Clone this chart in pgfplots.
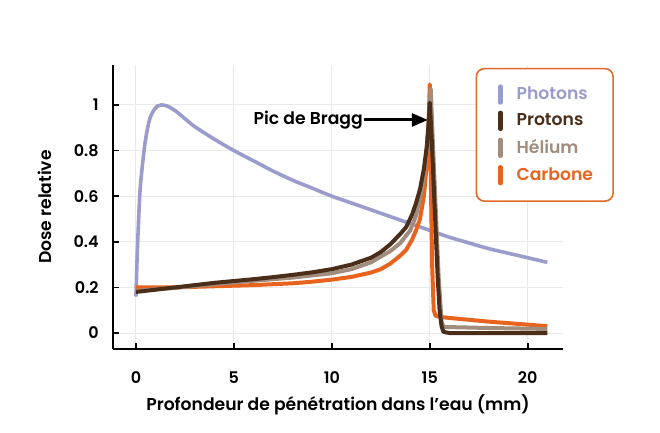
\documentclass[border=0pt]{standalone}
\usepackage{pgfplots}
\pgfplotsset{compat=1.18}
\usetikzlibrary{arrows.meta}
\usepackage{fontspec}
\setmainfont{Poppins}[UprightFont=* Medium, BoldFont=* SemiBold]
\definecolor{cPho}{HTML}{9A9CCB}
\definecolor{cPro}{HTML}{4B2E19}
\definecolor{cHel}{HTML}{A08D7D}
\definecolor{cCar}{HTML}{E8641E}
\definecolor{cBox}{HTML}{E06A2A}
\definecolor{cGrid}{HTML}{E9E9E9}
\begin{document}
\begin{tikzpicture}
\useasboundingbox (0,0) rectangle (330pt,216.5pt);
\begin{axis}[
  at={(56.5pt,42pt)}, anchor=south west,
  scale only axis, width=225pt, height=142pt,
  xmin=-1.17, xmax=21.8, ymin=-0.07, ymax=1.175,
  axis lines=left,
  axis line style={-, line width=1.4pt, black},
  xtick={0,5,10,15,20},
  ytick={0,0.2,0.4,0.6,0.8,1},
  grid=major,
  grid style={cGrid, line width=0.5pt},
  tick style={black, line width=0.8pt},
  major tick length=3pt,
  tick align=inside,
  /pgf/number format/assume math mode=true,
  tick label style={font=\fontsize{8}{9}\selectfont\bfseries, inner sep=0pt},
  xticklabel style={anchor=center, yshift=-14.5pt},
  yticklabel style={anchor=east, xshift=-7pt},
  xlabel={Profondeur de pénétration dans l'eau (mm)},
  ylabel={Dose relative},
  label style={font=\fontsize{8.6}{10}\selectfont\bfseries},
  xlabel style={at={(axis description cs:0.5,-0.197)}, anchor=center},
  ylabel style={at={(axis description cs:-0.151,0.5)}, anchor=center},
  legend style={at={(axis description cs:1.113,0.99)}, anchor=north east,
    draw=cBox, line width=0.8pt, rounded corners=4pt,
    inner xsep=8pt, inner ysep=7pt, row sep=1.5pt,
    font=\fontsize{8.6}{10}\selectfont\bfseries,
    /tikz/every odd column/.append style={column sep=5pt}},
  legend cell align=left,
  legend image code/.code={\path[draw=none, fill=none] (-4pt,0pt) -- (0pt,0pt);\draw[#1, line width=2.2pt, line cap=round] (0pt,-4pt) -- (0pt,4pt);},
]
\addlegendimage{cPho}
\addlegendentry{\textcolor{cPho}{Photons}}
\addlegendimage{cPro}
\addlegendentry{\textcolor{cPro}{Protons}}
\addlegendimage{cHel}
\addlegendentry{\textcolor{cHel}{Hélium}}
\addlegendimage{cCar}
\addlegendentry{\textcolor{cCar}{Carbone}}

\addplot[cPho, line width=1.8pt, line join=round, smooth, forget plot] coordinates {
(0,0.16) (0.05,0.3) (0.1,0.42) (0.2,0.61) (0.3,0.71) (0.46,0.83) (0.6,0.9) (0.71,0.94)
(0.9,0.975) (1.1,0.995) (1.3,1.0) (1.6,0.995) (2,0.975) (2.5,0.94) (3,0.905) (4,0.85)
(5,0.80) (6,0.755) (7,0.71) (8,0.67) (9,0.635) (10,0.60) (11,0.57) (12,0.54) (13,0.51)
(14,0.48) (15,0.45) (16,0.42) (17,0.395) (18,0.37) (19,0.35) (20,0.33) (21,0.31)};

\addplot[cCar, line width=2pt, line join=round, forget plot] coordinates {
(0,0.2) (2,0.2) (4,0.205) (6,0.21) (8,0.218) (9,0.225) (10,0.234) (11,0.246) (12,0.265)
(12.5,0.28) (13,0.305) (13.5,0.34) (13.8,0.365) (14.1,0.41) (14.3,0.45) (14.5,0.50)
(14.7,0.6) (14.85,0.745) (14.95,0.95) (15.0,1.09) (15.05,0.7) (15.12,0.3) (15.2,0.1)
(15.3,0.075) (15.6,0.07) (16,0.066) (18,0.05) (21,0.03)};

\addplot[cHel, line width=2pt, line join=round, forget plot] coordinates {
(0,0.185) (2,0.198) (5,0.222) (8,0.243) (10,0.262) (11,0.28) (12,0.31) (13,0.36) (13.5,0.395)
(14,0.45) (14.3,0.515) (14.6,0.63) (14.8,0.76) (14.95,0.92) (15.05,1.07) (15.15,0.85)
(15.3,0.55) (15.45,0.25) (15.6,0.05) (15.7,0.028) (16,0.026) (18,0.022) (21,0.018)};

\addplot[cPro, line width=2pt, line join=round, forget plot] coordinates {
(0,0.18) (1,0.19) (2,0.2) (3,0.21) (4,0.22) (5,0.228) (6,0.236) (7,0.245) (8,0.255)
(9,0.266) (10,0.28) (11,0.30) (12,0.33) (12.5,0.355) (13,0.39) (13.5,0.435) (13.8,0.465)
(14.1,0.52) (14.3,0.57) (14.5,0.63) (14.7,0.72) (14.85,0.82) (14.95,0.93) (15.0,1.01)
(15.1,0.85) (15.2,0.65) (15.3,0.45) (15.4,0.25) (15.5,0.1) (15.6,0.03) (15.7,0.005)
(16,0) (21,0)};

\node[anchor=east, inner sep=0pt, font=\fontsize{8.6}{10}\selectfont\bfseries] at (axis cs:11.6,0.934) {Pic de Bragg};
\draw[line width=1.5pt, -{Triangle[length=8pt,width=6.5pt]}] (axis cs:11.65,0.934) -- (axis cs:14.9,0.934);
\end{axis}
\end{tikzpicture}
\end{document}
